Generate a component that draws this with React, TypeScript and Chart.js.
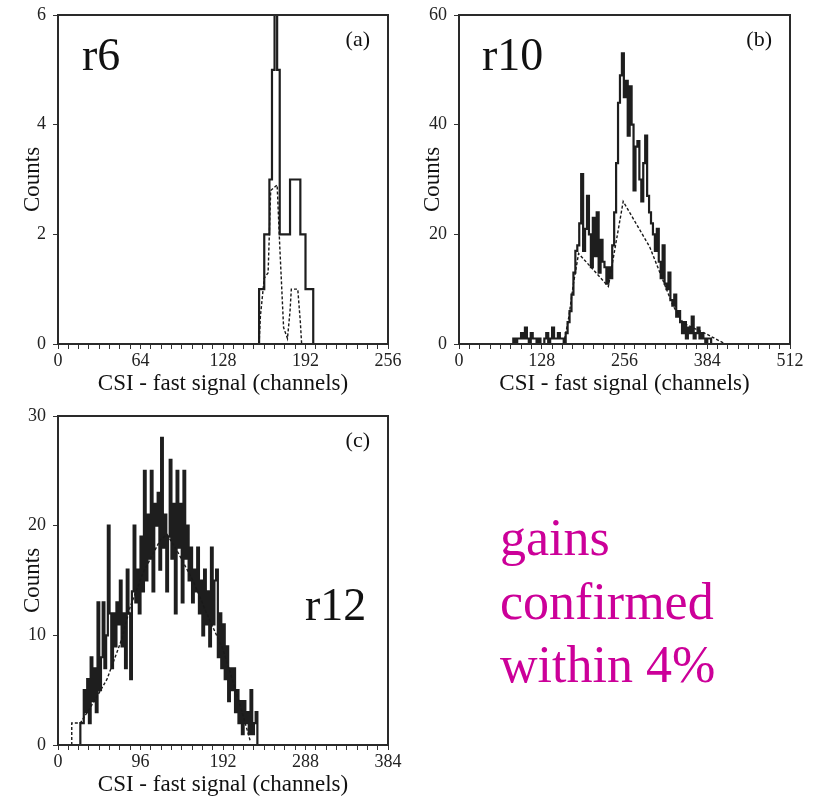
import React, { useEffect, useRef } from "react";
import { Chart, registerables } from "chart.js";

Chart.register(...registerables);

const FONT = "'Liberation Serif', 'Times New Roman', serif";

// ---------- Panel (a): r6 ----------
const aBinStart = 156;
const aBinWidth = 2;
const aCounts = [1, 1, 2, 2, 3, 5, 6, 5, 2, 2, 2, 2, 3, 3, 3, 3, 2, 2, 1, 1, 1];
const aFitX = [156, 157, 160, 163, 165, 170, 172, 175, 178, 180, 181, 186, 188, 189];
const aFitY = [0, 0.5, 1.2, 1.3, 2.8, 2.9, 1.8, 0.3, 0.1, 0.6, 1.0, 1.0, 0.4, 0];
const aXLabels = [0, 64, 128, 192, 256];
const aYTicks = [0, 2, 4, 6];

// ---------- Panel (b): r10 ----------
const bBinStart = 84;
const bBinWidth = 3;
const bCounts = [
  1, 0, 1, 1, 2, 1, 3, 1, 0, 2, 1, 1, 0, 1, 0, 0, 1, 2, 0, 1, 3, 1, 1, 2, 1, 1, 0,
  2, 4, 6, 9, 13, 17,
  18, 22, 31, 17, 21, 27, 20, 14, 23, 16, 24, 13, 19, 15, 14,
  11, 14, 12, 18,
  24, 33, 44, 49,
  53, 45, 48, 38, 47, 40,
  28, 36, 37, 30,
  26, 33, 38, 27, 24, 22,
  20, 17, 21, 15, 12, 18, 11, 10, 13, 8,
  7, 9, 5, 6, 4,
  2, 4, 1, 3, 2, 5, 1, 2, 3, 1, 2, 1, 0, 1, 1,
];
const bFitX = [162, 170, 177, 185, 231, 254, 295, 331, 347, 383, 412];
const bFitY = [0, 5, 11, 16.5, 10.5, 26, 17.7, 7, 3.8, 1.8, 0];
const bXLabels = [0, 128, 256, 384, 512];
const bYTicks = [0, 20, 40, 60];

// ---------- Panel (c): r12 ----------
const cBinStart = 26;
const cBinWidth = 2;
const cCounts = [
  2, 2, 5, 3, 6, 2, 8, 4, 7, 3,
  13, 5, 8, 13, 7, 10, 20, 12, 7, 12,
  9, 13, 11, 15, 9, 12, 7, 16, 12, 6,
  14, 20, 13, 16, 12, 19, 14, 25, 15, 21,
  17, 25, 14, 22, 20, 23, 16, 28, 18, 21,
  14, 19, 26, 17, 22, 12, 25, 18, 22, 13,
  25, 17, 20, 15, 18, 13, 16, 14, 18, 12,
  15, 10, 16, 11, 14, 9, 18, 11, 15, 16,
  8, 12, 7, 11, 6, 9, 4, 7, 5, 7,
  3, 5, 2, 4, 1, 4, 2, 3, 1, 5,
  1, 2, 3, 0,
];
const cFitX = [16, 16, 26, 30, 43, 57, 74, 84, 99, 119, 127, 140, 157, 173, 192, 208, 224];
const cFitY = [0, 2, 2, 2.5, 4.1, 6, 9.6, 12.6, 15.7, 18.7, 19.2, 17.5, 15, 12, 8.7, 4.7, 0.3];
const cXLabels = [0, 96, 192, 288, 384];
const cYTicks = [0, 10, 20, 30];

const X_TITLE = "CSI - fast signal (channels)";
const Y_TITLE = "Counts";

function histPoints(start: number, width: number, counts: number[]) {
  const pts = [{ x: start, y: 0 }];
  counts.forEach((c, i) => pts.push({ x: start + i * width, y: c }));
  pts.push({ x: start + counts.length * width, y: 0 });
  return pts;
}

function fitPoints(xs: number[], ys: number[]) {
  return xs.map((x, i) => ({ x, y: ys[i] }));
}

const decorPlugin = {
  id: "panelDecor",
  afterDraw(chart: any, _args: any, opts: any) {
    const { ctx, chartArea: a } = chart;
    ctx.save();
    ctx.strokeStyle = "#2a2a2a";
    ctx.lineWidth = 2;
    ctx.strokeRect(a.left, a.top, a.right - a.left, a.bottom - a.top);
    ctx.fillStyle = "#111";
    ctx.textBaseline = "alphabetic";
    ctx.font = `22px ${FONT}`;
    ctx.textAlign = "right";
    ctx.fillText(opts.tag, a.right - 18, a.top + 31);
    ctx.font = `46px ${FONT}`;
    ctx.textAlign = "left";
    ctx.fillText(opts.run, a.left + opts.runX, a.top + opts.runY);
    ctx.restore();
  },
};

type PanelProps = {
  counts: number[];
  start: number;
  width: number;
  fitX: number[];
  fitY: number[];
  xMax: number;
  xStep: number;
  xLabels: number[];
  yTicks: number[];
  tag: string;
  run: string;
  runX: number;
  runY: number;
  yAxisWidth: number;
  padRight: number;
  left: number;
  top: number;
};

function Panel(p: PanelProps) {
  const ref = useRef<HTMLCanvasElement | null>(null);
  useEffect(() => {
    if (!ref.current) return;
    const yMax = p.yTicks[p.yTicks.length - 1];
    const chart = new Chart(ref.current, {
      type: "line",
      data: {
        datasets: [
          {
            data: fitPoints(p.fitX, p.fitY),
            borderColor: "#1a1a1a",
            borderWidth: 1.4,
            borderDash: [3, 2],
            pointRadius: 0,
            tension: 0,
            fill: false,
          },
          {
            data: histPoints(p.start, p.width, p.counts),
            borderColor: "#1e1e1e",
            borderWidth: 2.2,
            pointRadius: 0,
            stepped: true,
            fill: false,
          },
        ],
      },
      options: {
        responsive: false,
        animation: false,
        devicePixelRatio: 1,
        layout: { padding: { left: 0, right: p.padRight, top: 15, bottom: 0 } },
        plugins: {
          legend: { display: false },
          tooltip: { enabled: false },
          panelDecor: { tag: p.tag, run: p.run, runX: p.runX, runY: p.runY },
        } as any,
        scales: {
          x: {
            type: "linear",
            min: 0,
            max: p.xMax,
            afterBuildTicks: (s: any) => {
              const t: any[] = [];
              for (let v = 0; v <= p.xMax; v += p.xStep) t.push({ value: v });
              s.ticks = t;
            },
            ticks: {
              autoSkip: false,
              maxRotation: 0,
              minRotation: 0,
              padding: 1,
              color: "#222",
              font: { family: FONT, size: 18 },
              callback: (v: any) => (p.xLabels.includes(Number(v)) ? String(v) : ""),
            },
            grid: { drawOnChartArea: false, drawTicks: true, tickLength: 5, color: "#333", lineWidth: 1 },
            border: { display: true, color: "#1a1a1a", width: 2 },
            title: {
              display: true,
              text: X_TITLE,
              color: "#111",
              font: { family: FONT, size: 23 },
              padding: { top: 0, bottom: 2 },
            },
            afterFit: (s: any) => {
              s.height = 56;
              s.paddingLeft = 0;
              s.paddingRight = 0;
            },
          },
          y: {
            type: "linear",
            min: 0,
            max: yMax,
            afterBuildTicks: (s: any) => {
              s.ticks = p.yTicks.map((v) => ({ value: v }));
            },
            ticks: {
              padding: 7,
              color: "#222",
              font: { family: FONT, size: 18 },
            },
            grid: { drawOnChartArea: false, drawTicks: true, tickLength: 5, color: "#333", lineWidth: 1 },
            border: { display: true, color: "#1a1a1a", width: 2 },
            title: {
              display: true,
              text: Y_TITLE,
              color: "#111",
              font: { family: FONT, size: 23 },
              padding: { top: 19, bottom: 0 },
            },
            afterFit: (s: any) => {
              s.width = p.yAxisWidth;
              s.paddingTop = 0;
              s.paddingBottom = 0;
            },
          },
        },
      } as any,
      plugins: [decorPlugin as any],
    });
    return () => chart.destroy();
  }, []);
  return (
    <canvas
      ref={ref}
      width={410}
      height={400}
      style={{ position: "absolute", left: p.left, top: p.top, width: 410, height: 400 }}
    />
  );
}

export default function App() {
  return (
    <div style={{ position: "absolute", left: 0, top: 0, width: 823, height: 803, background: "#fff" }}>
      <Panel
        counts={aCounts} start={aBinStart} width={aBinWidth} fitX={aFitX} fitY={aFitY}
        xMax={256} xStep={8} xLabels={aXLabels} yTicks={aYTicks}
        tag="(a)" run="r6" runX={24} runY={55} yAxisWidth={58} padRight={22} left={0} top={0}
      />
      <Panel
        counts={bCounts} start={bBinStart} width={bBinWidth} fitX={bFitX} fitY={bFitY}
        xMax={512} xStep={16} xLabels={bXLabels} yTicks={bYTicks}
        tag="(b)" run="r10" runX={23} runY={55} yAxisWidth={59} padRight={20} left={400} top={0}
      />
      <Panel
        counts={cCounts} start={cBinStart} width={cBinWidth} fitX={cFitX} fitY={cFitY}
        xMax={384} xStep={12} xLabels={cXLabels} yTicks={cYTicks}
        tag="(c)" run="r12" runX={247} runY={204} yAxisWidth={58} padRight={22} left={0} top={401}
      />
      <div
        style={{
          position: "absolute",
          left: 500,
          top: 506,
          fontFamily: FONT,
          fontSize: 52,
          lineHeight: "63.5px",
          color: "#cc0099",
          whiteSpace: "pre",
        }}
      >
        {"gains\nconfirmed\nwithin 4%"}
      </div>
    </div>
  );
}
